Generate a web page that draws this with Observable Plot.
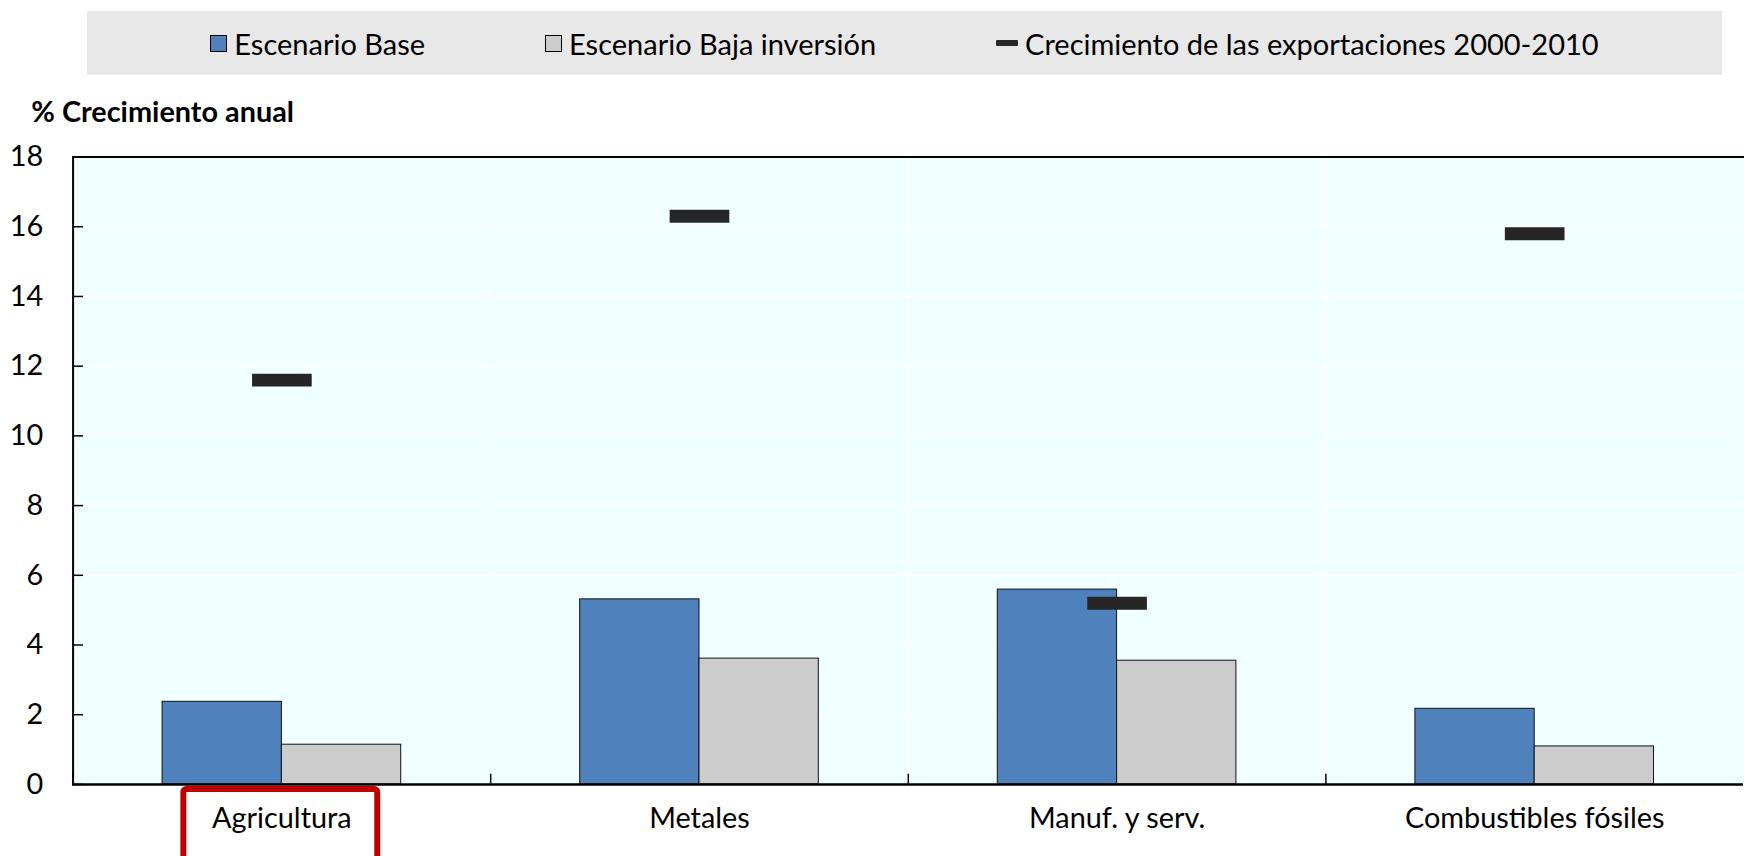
<!DOCTYPE html>
<html>
<head>
<meta charset="utf-8">
<script src="https://cdn.jsdelivr.net/npm/d3@7"></script>
<script src="https://cdn.jsdelivr.net/npm/@observablehq/plot@0.6"></script>
<style>
html, body { margin: 0; padding: 0; background: #fff; overflow: hidden; width: 1744px; height: 856px; }
body { font-family: Lato, "Open Sans", sans-serif; color: #000; position: relative; }
#legend { position: absolute; left: 87px; top: 11px; width: 1635px; height: 64px; background: #e8e8e8;
  display: flex; align-items: center; justify-content: center; gap: 120px; font-size: 29px; }
.item { display: flex; align-items: center; gap: 7px; white-space: nowrap; }
.sw { width: 15px; height: 15px; border: 1px solid #000; box-sizing: content-box; }
.dash { width: 22px; height: 6px; background: #262626; border-radius: 1px; }
#chart { position: absolute; left: 0; top: 75px; }
</style>
</head>
<body>
<div id="legend"></div>
<div id="chart"></div>
<script>
// ---- data ----
const categories = ["Agricultura", "Metales", "Manuf. y serv.", "Combustibles fósiles"];
const seriesNames = ["Escenario Base", "Escenario Baja inversión"];
const baseValues = [2.37, 5.31, 5.59, 2.17];
const lowValues = [1.14, 3.61, 3.55, 1.09];
const exportLabel = "Crecimiento de las exportaciones 2000-2010";
const exportValues = [11.6, 16.3, 5.2, 15.8];
const yTicks = [0, 2, 4, 6, 8, 10, 12, 14, 16, 18];
const yLabel = "% Crecimiento anual";
const highlighted = "Agricultura";
const seriesColors = ["#4f81bd", "#cccccc"];

// ---- tables ----
const bars = categories.flatMap((c, i) => [
  {cat: c, series: seriesNames[0], value: baseValues[i]},
  {cat: c, series: seriesNames[1], value: lowValues[i]}
]);
const exportsData = categories.map((c, i) => ({cat: c, value: exportValues[i]}));

// ---- legend ----
const legend = document.getElementById("legend");
seriesNames.forEach((s, i) => {
  const it = document.createElement("div"); it.className = "item";
  const sw = document.createElement("div"); sw.className = "sw"; sw.style.background = seriesColors[i];
  const t = document.createElement("span"); t.textContent = s;
  it.append(sw, t); legend.append(it);
});
{
  const it = document.createElement("div"); it.className = "item";
  const sw = document.createElement("div"); sw.className = "dash";
  const t = document.createElement("span"); t.textContent = exportLabel;
  it.append(sw, t); legend.append(it);
}

// ---- custom symbols ----
const dashSymbol = {draw(ctx) { ctx.rect(-30, -6.5, 60, 13); }};
const tickSymbol = {draw(ctx) { ctx.moveTo(0, 0); ctx.lineTo(10, 0); }};

// ---- layout ----
const W = 1754, H = 781, mL = 72, mT = 82, mB = 68;
const plotH = H - mT - mB;

const chart = Plot.plot({
  width: W, height: H,
  marginLeft: mL, marginRight: 0, marginTop: mT, marginBottom: mB,
  style: {fontFamily: "Lato, 'Open Sans', sans-serif", fontSize: "29px", color: "#000", background: "transparent", overflow: "visible"},
  fx: {domain: categories, padding: 0, label: null},
  x: {domain: seriesNames, paddingInner: 0, paddingOuter: 0.75, axis: null},
  y: {domain: [0, 18], ticks: yTicks, label: null},
  color: {domain: seriesNames, range: seriesColors},
  marks: [
    Plot.frame({fill: "#f0ffff", stroke: null}),
    Plot.gridY(yTicks, {stroke: "white", strokeOpacity: 1, strokeWidth: 1.5}),
    Plot.frame({anchor: "left", stroke: "white", strokeWidth: 1.5}),
    Plot.frame({anchor: "left", stroke: "black", strokeWidth: 1.5, insetTop: plotH - 10}),
    Plot.barY(bars, {fx: "cat", x: "series", y: "value", fill: "series", stroke: "#111", strokeWidth: 1}),
    Plot.dot(exportsData, {fx: "cat", y: "value", symbol: dashSymbol, fill: "#262626", stroke: null}),
    Plot.ruleY([0], {stroke: "black", strokeWidth: 2.5}),
    Plot.frame({anchor: "top", stroke: "black", strokeWidth: 2}),
    Plot.frame({anchor: "left", stroke: "black", strokeWidth: 2, facetAnchor: "left"}),
    Plot.dot(yTicks, {y: d => d, frameAnchor: "left", symbol: tickSymbol, stroke: "black", strokeWidth: 1.5, fill: "none", facetAnchor: "left"}),
    Plot.axisY(yTicks, {anchor: "left", tickSize: 0, tickPadding: 30, label: null}),
    Plot.axisFx({anchor: "bottom", tickSize: 0, tickPadding: 23, label: null}),
    Plot.text([yLabel], {frameAnchor: "top-left", facetAnchor: "left", dx: -42, dy: -56, textAnchor: "start", fontWeight: "bold", fontSize: 29})
  ]
});
document.getElementById("chart").append(chart);

// ---- highlight box around the chosen category label ----
(function () {
  const svg = chart.tagName === "svg" ? chart : chart.querySelector("svg");
  const texts = [...svg.querySelectorAll("text")].filter(t => t.textContent === highlighted);
  if (!texts.length) return;
  const t = texts[texts.length - 1];
  const sr = svg.getBoundingClientRect();
  const r = t.getBoundingClientRect();
  const cx = r.left - sr.left + r.width / 2;
  const y0 = chart.scale("y").apply(0);
  const rect = document.createElementNS("http://www.w3.org/2000/svg", "rect");
  rect.setAttribute("x", cx - 97.5);
  rect.setAttribute("y", y0 + 5);
  rect.setAttribute("width", 195);
  rect.setAttribute("height", 120);
  rect.setAttribute("rx", 3);
  rect.setAttribute("fill", "none");
  rect.setAttribute("stroke", "#c00000");
  rect.setAttribute("stroke-width", 6);
  svg.append(rect);
})();
</script>
</body>
</html>
